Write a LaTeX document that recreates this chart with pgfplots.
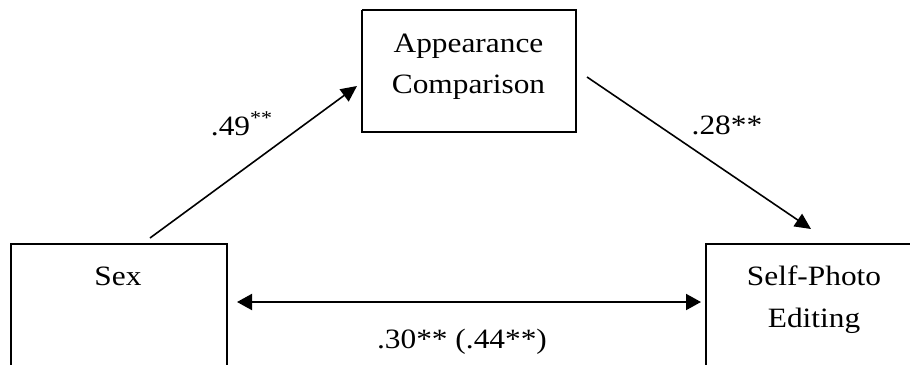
\documentclass[border=0pt]{standalone}
\usepackage{fontspec}
\setmainfont[FakeStretch=1.12]{Liberation Serif}
\usepackage{pgfplots}
\pgfplotsset{compat=1.18}
\usetikzlibrary{arrows.meta}
\begin{document}
\begin{tikzpicture}
\begin{axis}[x=0.5pt, y=0.5pt, xmin=0, xmax=910, ymin=0, ymax=364,
  y dir=reverse, hide axis, clip=true]
% boxes
\addplot[black, line width=0.85pt, line join=miter] coordinates {(362,10) (576,10) (576,132) (362,132) (362,10)};
\addplot[black, line width=0.85pt, line join=miter] coordinates {(11,380) (11,244) (227,244) (227,380)};
\addplot[black, line width=0.85pt, line join=miter] coordinates {(930,244) (706,244) (706,380)};
% arrows
\addplot[black, line width=0.8pt, -{Triangle[length=8pt, width=7.5pt]}] coordinates {(150,238) (357,86)};
\addplot[black, line width=0.8pt, -{Triangle[length=8pt, width=7.5pt]}] coordinates {(587,77) (811,229)};
\addplot[black, line width=1pt, {Triangle[length=7.5pt, width=8pt]}-{Triangle[length=7.5pt, width=8pt]}] coordinates {(237,302) (701,302)};
% texts
\begin{scope}[every node/.style={font=\fontsize{14}{17}\selectfont, anchor=base, inner sep=0pt}]
\node at (axis cs:468.5,52) {Appearance};
\node at (axis cs:468.5,93) {Comparison};
\node at (axis cs:118,285) {Sex};
\node at (axis cs:814,285) {Self-Photo};
\node at (axis cs:814,327) {Editing};
\node at (axis cs:242,135) {.49\textsuperscript{**}};
\node at (axis cs:727,134) {.28**};
\node at (axis cs:462,348) {.30** (.44**)};
\end{scope}
\end{axis}
\pgfresetboundingbox
\path[use as bounding box] (current axis.south west) rectangle (current axis.north east);
\end{tikzpicture}
\end{document}
